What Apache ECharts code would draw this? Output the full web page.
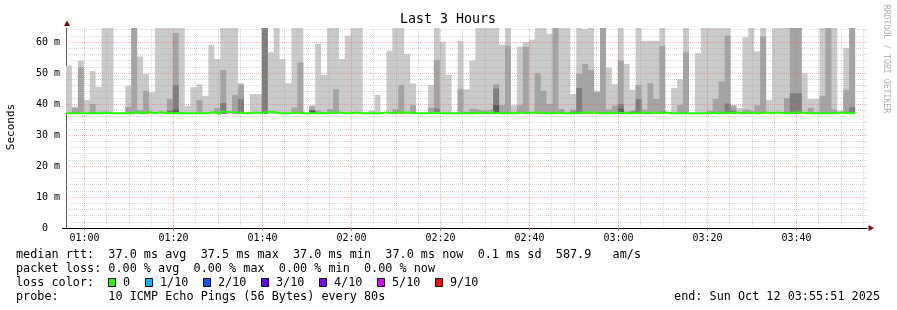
<!DOCTYPE html>
<html><head><meta charset="utf-8">
<script src="https://cdn.jsdelivr.net/npm/echarts@6/dist/echarts.min.js"></script>
<style>html,body{margin:0;padding:0;background:#fff}#c{width:897px;height:310px}</style>
</head><body><div id="c"></div>
<script>
// ---- time frame (minutes after midnight) ----
const startMin = 55.85;   // 00:55:51
const endMin = 235.85;    // 03:55:51
const stepMin = 80 / 60;  // one probe every 80 s

// ---- smoke layers (top of each grey band, ms; 0 = band absent) ----
const light = [
 52.4,39,54,41.3,50.6,45.6,66,66,0,0,
 45.8,66,55.3,49.7,43.8,66,66,66,66,66,
 39.4,45.4,46.4,42.7,59.1,54.5,66,66,66,46.7,
 37.5,43.2,43.2,66,56.7,66,54.5,46.7,66,66,
 0,39.6,59.4,49.4,66,66,54.5,62,66,66,
 0,37.9,42.9,0,57.2,66,66,56.1,46.7,0,
 0,46.1,66,60.1,49.4,0,60.4,44.8,54,66,
 66,66,66,59.1,66,39.6,58.5,60,60.7,66,
 66,62.6,66,66,66,43.2,66,64.2,66,44.3,
 66,51.8,46.4,66,52.9,44.6,66,60.4,60.4,60.4,
 66,37.5,45.2,48,66,0,56.4,66,66,66,
 66,66,39.5,38.7,61.5,66,57,66,41.3,66,
 66,66,66,66,49.9,41.6,41.6,66,66,66,
 37.8,58.1,66];
const mid = [
 0,38.8,51.8,0,40,0,37.6,0,0,0,
 39,66,38,44.3,0,0,0,41.6,62.9,0,
 0,0,41.3,0,0,38.6,51,0,43,46.3,
 0,0,0,66,0,0,0,0,38.9,53.4,
 0,39.2,37.8,0,38.4,44.8,0,0,0,0,
 0,0,0,0,0,38.4,46.1,0,39.6,0,
 0,38.9,54.2,0,0,0,44.8,37.5,38.5,38,
 37.8,38.4,46.4,39.7,58.8,0,39.6,58.5,0,49.9,
 44.3,40,66,38.4,0,38.2,49.7,52.9,51,43.8,
 66,38.2,39.4,54,37.6,38.2,46.1,38.2,46.7,41.6,
 58.8,0,0,39.7,56.7,0,0,0,37.8,41.6,
 47.3,62.1,39.5,0,38.2,37.6,39.6,61.8,0,0,
 0,41.9,66,66,0,38.8,0,42.7,66,38.2,
 0,44.6,66];
const dark = [
 0,0,0,0,0,0,0,0,0,0,
 0,0,0,0,0,0,0,38,46.1,0,
 0,0,0,0,0,0,40.3,0,0,41.6,
 0,0,0,66,0,0,0,0,0,0,
 0,38,0,0,0,0,0,0,0,0,
 0,0,0,0,0,0,0,0,0,0,
 0,0,38.5,0,0,0,0,0,0,0,
 0,0,45,0,0,0,0,0,0,0,
 0,0,0,0,0,37.6,45.2,0,0,0,
 0,0,0,40,0,37.5,41.6,0,0,0,
 37.6,0,0,0,0,0,0,0,0,0,
 37.5,40.2,37.8,0,0,0,0,0,0,0,
 0,0,43.5,43.5,0,0,0,0,0,0,
 0,0,39];
const darkest = [
 0,0,0,0,0,0,0,0,0,0,
 0,0,0,0,0,0,0,0,38.2,0,
 0,0,0,0,0,0,0,0,0,0,
 0,0,0,0,0,0,0,0,0,0,
 0,38,0,0,0,0,0,0,0,0,
 0,0,0,0,0,0,0,0,0,0,
 0,0,0,0,0,0,0,0,0,0,
 0,0,39.6,0,0,0,0,0,0,0,
 0,0,0,0,0,0,0,0,0,0,
 0,0,0,38.5,0,0,0,0,0,0,
 0,0,0,0,0,0,0,0,0,0,
 0,0,0,0,0,0,0,0,0,0,
 0,0,0,0,0,0,0,0,0,0,
 0,0,0];
const median = [
 37,37,37,37,37,37,37.2,37,37,37,
 37,37.4,37,37.4,37,37.4,37,37,37.1,37,
 37,37,37,37,37.4,36.8,37.5,37.3,37.3,37,
 37,37.3,37,37.4,37.4,37,37,37,37.3,37,
 37,37,37,37,37.3,37.3,37,37,37.3,37,
 37,37,37,37.3,37,37.3,37.3,37.3,37,37,
 37,37.2,37,37,37,37,37,37,37,37.3,
 37,37.3,37,37,37,37,37.3,37,37.3,37.3,
 37,37,37.3,37,37,37,37.3,37.3,37.3,37,
 37,37,37.3,37,37,37,37.3,37,37.3,37,
 37.3,37,37,37,37,37,37,37,37.2,37,
 37.3,37,37.3,37,37.3,37,37,37.3,37,37.3,
 37,37,37.3,37.3,37,37,37,37,37,37,
 37.3,37,37];
const smokeFloor = 36.8; // lowest ping of the window (ms)

// ---- axes ----
const xTickValues = [60, 80, 100, 120, 140, 160, 180, 200, 220];
const xTickLabels = ['01:00','01:20','01:40','02:00','02:20','02:40','03:00','03:20','03:40'];
const yTickValues = [0, 10, 20, 30, 40, 50, 60];
const yTickLabels = ['0  ','10 m','20 m','30 m','40 m','50 m','60 m'];

// ---- legend / stats text ----
const statsLines = [
 'median rtt:  37.0 ms avg  37.5 ms max  37.0 ms min  37.0 ms now  0.1 ms sd  587.9   am/s',
 'packet loss: 0.00 % avg  0.00 % max  0.00 % min  0.00 % now',
 'loss color:',
 'probe:       10 ICMP Echo Pings (56 Bytes) every 80s'
];
const lossLabels = ['0','1/10','2/10','3/10','4/10','5/10','9/10'];
const lossColors = ['#26ff00','#00b8ff','#0059ff','#5e00ff','#7e00ff','#dd00ff','#ff0000'];
const endText = 'end: Sun Oct 12 03:55:51 2025';

// ---------------------------------------------------------------
const MONO = "'DejaVu Sans Mono', monospace";
const N = light.length;
const times = [];
for (let k = 0; k <= N; k++) times.push(+(startMin + k * stepMin).toFixed(4));
function stepData(vals) {
  const d = vals.map((v, k) => [times[k], v]);
  d.push([times[N], vals[N - 1]]);
  return d;
}
// absolute tops of each nested band (inner bands never exceed outer ones)
const top1 = [], top2 = [], top3 = [], top4 = [];
for (let k = 0; k < N; k++) {
  const a = Math.max(smokeFloor, darkest[k]);
  const b = Math.max(a, dark[k]);
  const c = Math.max(b, mid[k]);
  const d = Math.max(c, light[k]);
  top1.push(a); top2.push(b); top3.push(c); top4.push(d);
}
function layer(name, vals, color, z) {
  return { name, type: 'line', step: 'end', symbol: 'none', silent: true,
    data: stepData(vals), lineStyle: { width: 0, opacity: 0 },
    areaStyle: { color, opacity: 1, origin: smokeFloor }, z };
}

// grid lines (drawn above the smoke, like rrdtool)
const gridMinor = { color: 'rgba(160,160,160,0.42)', width: 1, type: 'dotted' };
const gridMajor = { color: 'rgba(235,90,90,0.45)', width: 1, type: 'dotted' };
const gridLines = [];
for (let m = 60; m <= 235; m += 5) gridLines.push({ xAxis: m, lineStyle: (m % 20 === 0) ? gridMajor : gridMinor });
for (let v = 2; v <= 64; v += 2) gridLines.push({ yAxis: v, lineStyle: (v % 10 === 0) ? gridMajor : gridMinor });

const chart = echarts.init(document.getElementById('c'), null, { renderer: 'canvas' });
const graphic = [
  { type: 'text', x: 448, y: 20, style: { text: 'Last 3 Hours', font: '13.3px ' + MONO, fill: '#000', textAlign: 'center', textVerticalAlign: 'middle' } },
  { type: 'text', x: 11, y: 127, rotation: Math.PI / 2, style: { text: 'Seconds', font: '11px ' + MONO, fill: '#000', textAlign: 'center', textVerticalAlign: 'middle' } },
  { type: 'text', x: 886, y: 59, rotation: -Math.PI / 2, style: { text: 'RRDTOOL / TOBI OETIKER', font: '8.2px ' + MONO, fill: '#b0b0b0', textAlign: 'center', textVerticalAlign: 'middle' } },
  { type: 'polygon', shape: { points: [[64, 26], [70, 26], [67, 20.5]] }, style: { fill: '#7f0000' }, z: 50 },
  { type: 'polygon', shape: { points: [[868.5, 225], [868.5, 231], [874, 228]] }, style: { fill: '#7f0000' }, z: 50 },
  { type: 'text', x: 880, y: 296.5, style: { text: endText, font: '11.8px ' + MONO, fill: '#000', textAlign: 'right', textVerticalAlign: 'middle' } }
];
const lineY = [254.5, 268.5, 282.5, 296.5];
statsLines.forEach((t, i) => graphic.push({ type: 'text', x: 16, y: lineY[i], style: { text: t, font: '11.8px ' + MONO, fill: '#000', textVerticalAlign: 'middle' } }));
const boxX = [108.5, 145.5, 203.5, 261.5, 319.5, 377.5, 435.5];
lossLabels.forEach((lab, i) => {
  graphic.push({ type: 'rect', shape: { x: boxX[i], y: 278.5, width: 7, height: 8 }, style: { fill: lossColors[i], stroke: '#000', lineWidth: 1 } });
  graphic.push({ type: 'text', x: boxX[i] + 14.5, y: lineY[2], style: { text: lab, font: '11.8px ' + MONO, fill: '#000', textVerticalAlign: 'middle' } });
});

chart.setOption({
  animation: false,
  backgroundColor: '#fff',
  grid: { left: 66, right: 30, top: 28, bottom: 82, containLabel: false },
  xAxis: {
    type: 'value', min: startMin, max: endMin,
    axisLine: { onZero: false, lineStyle: { color: '#000', width: 1 } },
    axisTick: { customValues: xTickValues, length: 3, lineStyle: { color: 'rgba(222,80,80,0.8)' } },
    axisLabel: { customValues: xTickValues, margin: 5, color: '#000', fontFamily: MONO, fontSize: 10,
      formatter: v => { const i = xTickValues.indexOf(Math.round(v)); return i >= 0 ? xTickLabels[i] : ''; } },
    splitLine: { show: false }
  },
  yAxis: {
    type: 'value', min: 0, max: 64.52,
    axisLine: { show: true, onZero: false, lineStyle: { color: '#555', width: 1 } },
    axisTick: { customValues: [0], length: 4, lineStyle: { color: '#000' } },
    axisLabel: { customValues: yTickValues, margin: 6, color: '#000', fontFamily: MONO, fontSize: 10,
      formatter: v => { const i = yTickValues.indexOf(Math.round(v)); return i >= 0 ? yTickLabels[i] : ''; } },
    splitLine: { show: false }
  },
  series: [
    layer('p2', top4, '#cacaca', 1),
    layer('p3', top3, '#a4a4a4', 2),
    layer('p4', top2, '#7e7e7e', 3),
    layer('p5', top1, '#585858', 4),
    { name: 'grid', type: 'line', data: [], z: 5, silent: true,
      markLine: { silent: true, symbol: 'none', label: { show: false }, animation: false, data: gridLines } },
    { name: 'median', type: 'line', step: 'end', symbol: 'none', silent: true, z: 6,
      data: stepData(median), lineStyle: { color: '#26ff00', width: 2 } }
  ],
  graphic
});
</script></body></html>
